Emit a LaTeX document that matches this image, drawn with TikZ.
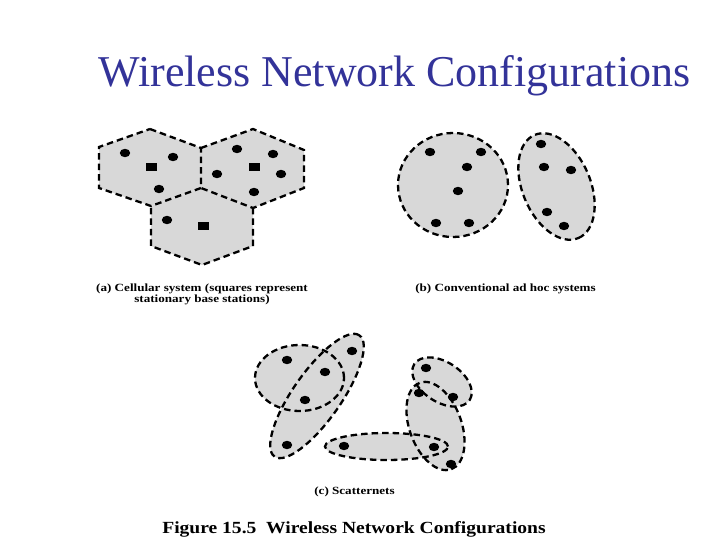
\documentclass[tikz,border=0pt]{standalone}
\usepackage{fontspec}
\setmainfont{Liberation Serif}
\definecolor{titleblue}{RGB}{51,51,153}
\definecolor{cellgray}{RGB}{216,216,216}
\tikzset{
  cellfill/.style={fill=cellgray},
  cellline/.style={draw=black, line width=2.3pt, dash pattern=on 6.5pt off 4pt},
  sq/.style={rectangle, fill=black, minimum width=11pt, minimum height=8pt, inner sep=0pt},
  capfont/.style={font=\fontsize{11}{11}\selectfont\bfseries},
}
\newcommand\mydot[1]{\fill[black] #1 ellipse [x radius=5.2pt, y radius=4.2pt];}
\begin{document}
\begin{tikzpicture}[x=1pt,y=-1pt]
\useasboundingbox (0,0) rectangle (720,540);
% title
\node[anchor=base, font=\fontsize{44}{50}\selectfont, text=titleblue, inner sep=0pt] (title) at (394.5,87) {Wireless Network Configurations};

% (a) cellular
\foreach \p in {
  {(150,129) -- (201,148) -- (201,188) -- (151,206) -- (99,188) -- (99,147) -- cycle},
  {(253,129) -- (304,150) -- (304,188) -- (253,208) -- (201,188) -- (201,148) -- cycle},
  {(201,188) -- (253,208) -- (253,246) -- (202,265) -- (151,246) -- (151,206) -- cycle}}
  {\fill[cellfill] \p;}
\draw[cellline] (150,129) -- (201,148) -- (201,188) -- (151,206) -- (99,188) -- (99,147) -- cycle;
\draw[cellline] (201,148) -- (253,129) -- (304,150) -- (304,188) -- (253,208) -- (201,188);
\draw[cellline] (253,208) -- (253,246) -- (202,265) -- (151,246) -- (151,206);
\foreach \c in {(125,153),(173,157),(159,189),(237,149),(273,154),(217,174),(281,174),(254,192),(167,220)}
  {\mydot{\c}}
\node[sq] (bs1) at (151,167) {};
\node[sq] (bs2) at (254,167) {};
\node[sq] (bs3) at (203,226) {};

% (b) ad hoc
\fill[cellfill] (453,185) ellipse [x radius=55pt, y radius=52pt];
\fill[cellfill, rotate around={-67:(556.5,186.5)}] (556.5,186.5) ellipse [x radius=56pt, y radius=34pt];
\draw[cellline] (453,185) ellipse [x radius=55pt, y radius=52pt];
\draw[cellline, rotate around={-67:(556.5,186.5)}] (556.5,186.5) ellipse [x radius=56pt, y radius=34pt];
\foreach \c in {(430,152),(481,152),(467,167),(458,191),(436,223),(469,223),
  (541,144),(544,167),(571,170),(547,212),(564,226)}
  {\mydot{\c}}

% (c) scatternets
\fill[cellfill] (299.5,378) ellipse [x radius=44.5pt, y radius=33pt];
\fill[cellfill, rotate around={55:(317,396)}] (317,396) ellipse [x radius=74pt, y radius=24pt];
\fill[cellfill, rotate around={-33:(442,382)}] (442,382) ellipse [x radius=33pt, y radius=20pt];
\fill[cellfill, rotate around={-70:(435.5,426)}] (435.5,426) ellipse [x radius=46pt, y radius=26pt];
\fill[cellfill] (386.5,446.5) ellipse [x radius=61.5pt, y radius=13.5pt];
\draw[cellline] (299.5,378) ellipse [x radius=44.5pt, y radius=33pt];
\draw[cellline, rotate around={55:(317,396)}] (317,396) ellipse [x radius=74pt, y radius=24pt];
\draw[cellline, rotate around={-33:(442,382)}] (442,382) ellipse [x radius=33pt, y radius=20pt];
\draw[cellline, rotate around={-70:(435.5,426)}] (435.5,426) ellipse [x radius=46pt, y radius=26pt];
\draw[cellline] (386.5,446.5) ellipse [x radius=61.5pt, y radius=13.5pt];
\foreach \c in {(287,360),(325,372),(305,400),(287,445),(352,351),(344,446),
  (426,368),(453,397),(419,393),(434,447),(451,464)}
  {\mydot{\c}}

% captions
\node[capfont, align=center, inner sep=0pt] (capa) at (202,294) {\scalebox{1.19}[1]{(a) Cellular system (squares represent}\\[0pt]\scalebox{1.19}[1]{stationary base stations)}};
\node[capfont, inner sep=0pt] (capb) at (505.5,289) {\scalebox{1.19}[1]{(b) Conventional ad hoc systems}};
\node[capfont, inner sep=0pt] (capc) at (354.5,492) {\scalebox{1.19}[1]{(c) Scatternets}};
\node[font=\fontsize{17}{17}\selectfont\bfseries, inner sep=0pt] (fig) at (354,529) {\scalebox{1.15}[1]{Figure 15.5\ \ Wireless Network Configurations}};
\end{tikzpicture}
\end{document}
